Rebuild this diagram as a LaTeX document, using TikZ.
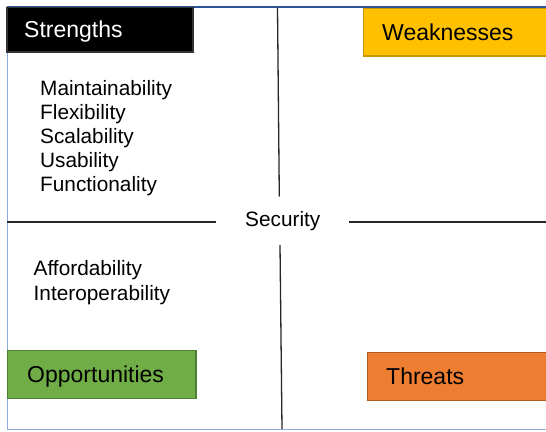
\documentclass[tikz,border=0pt]{standalone}
\usepackage{fontspec}
\setmainfont{Liberation Sans}
\begin{document}
\begin{tikzpicture}[x=1pt,y=-1pt,
  headtext/.style={font=\fontsize{23}{27}\selectfont, anchor=base west, inner sep=0pt},
  itemtext/.style={font=\fontsize{20.8}{24}\selectfont, anchor=base west, inner sep=0pt},
  crossline/.style={draw=black!85, line width=1.3pt},
  boxframe/.style={line width=1.2pt}]
\useasboundingbox (0,0) rectangle (546,431);
\fill[white] (0,0) rectangle (546,431);
% outer frame
\coordinate (fTL) at (7,6.5);
\coordinate (fTR) at (546,6.5);
\coordinate (fBL) at (7,429.5);
\coordinate (fBR) at (546,429.5);
\draw[draw={rgb,255:red,143;green,170;blue,220}, line width=1pt] (fTL) -- (fBL) -- (fBR);
\draw[draw={rgb,255:red,47;green,85;blue,151}, line width=2pt] (fTL) -- (fTR);
% colored boxes
\filldraw[fill=black, draw=black!80, boxframe] (7,7.5) rectangle (193,52);
\filldraw[fill={rgb,255:red,255;green,192;blue,0}, draw={rgb,255:red,200;green,150;blue,0}, boxframe] (363.5,8.5) rectangle (547,56);
\filldraw[fill={rgb,255:red,112;green,173;blue,71}, draw={rgb,255:red,80;green,126;blue,50}, boxframe] (7.5,350.5) rectangle (196,398.5);
\filldraw[fill={rgb,255:red,237;green,125;blue,49}, draw={rgb,255:red,174;green,90;blue,33}, boxframe] (367.5,352.5) rectangle (547,400.5);
% labels
\node[headtext, text=white] (strengths) at (24,37.5) {Strengths};
\node[headtext] (weaknesses) at (382,40) {Weaknesses};
\node[headtext] (opportunities) at (27,382) {Opportunities};
\node[headtext] (threats) at (386,384) {Threats};
% security
\node[itemtext] (security) at (245,226.5) {Security};
% cross lines
\coordinate (vTopA) at (277.5,7.5);
\coordinate (vTopB) at (279.3,196.5);
\coordinate (vBotA) at (280,245);
\coordinate (vBotB) at (282,429);
\coordinate (hLA) at (7,222);
\coordinate (hLB) at (216,222);
\coordinate (hRA) at (349,222);
\coordinate (hRB) at (546,222);
\draw[crossline] (vTopA) -- (vTopB);
\draw[crossline] (vBotA) -- (vBotB);
\draw[crossline] (hLA) -- (hLB);
\draw[crossline] (hRA) -- (hRB);
% strengths list
\node[itemtext] (s1) at (40,95.5) {Maintainability};
\node[itemtext] (s2) at (40,119.5) {Flexibility};
\node[itemtext] (s3) at (40,143.5) {Scalability};
\node[itemtext] (s4) at (40,167.5) {Usability};
\node[itemtext] (s5) at (40,191.5) {Functionality};
% opportunities list
\node[itemtext] (o1) at (33.5,275.5) {Affordability};
\node[itemtext] (o2) at (33.5,300) {Interoperability};
\end{tikzpicture}
\end{document}
